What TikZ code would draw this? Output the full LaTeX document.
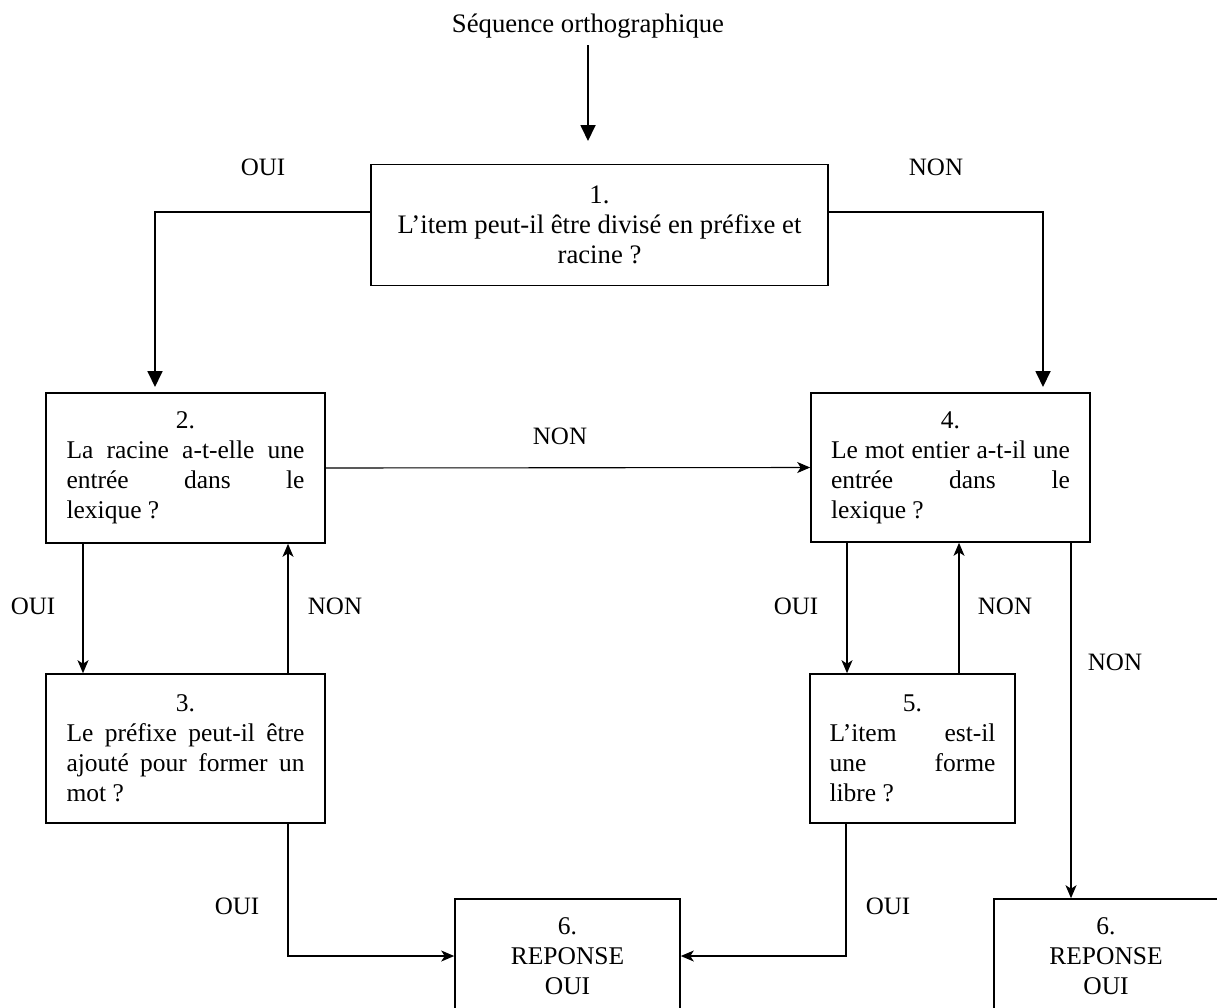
\documentclass[tikz,border=0pt]{standalone}
\usepackage{fontspec}
\setmainfont{Liberation Serif}
\usetikzlibrary{arrows.meta}
\begin{document}
\begin{tikzpicture}[x=1pt,y=-1pt,
  box/.style={draw, line width=1.6pt, inner sep=0pt, align=center, font=\fontsize{25.5}{30}\selectfont},
  bigbox/.style={box, font=\fontsize{26.7}{30}\selectfont},
  lbl/.style={font=\fontsize{25}{30}\selectfont, inner sep=0pt},
  bigarrow/.style={line width=1.8pt, -{Triangle[length=16pt,width=15pt]}},
  conn/.style={line width=1.1pt},
  connarrow/.style={conn, -{Stealth[length=13pt,width=11pt,inset=3.5pt]}},
]
\useasboundingbox (0,0) rectangle (1217,1007);
\clip (0,0) rectangle (1217,1007);

% title
\node[lbl, font=\fontsize{26.7}{30}\selectfont] (t) at (588,26) {Séquence orthographique};
\coordinate (c1) at (588,141);
\draw[bigarrow] (588,45) -- (c1);

% boxes
\node[bigbox, minimum width=457pt, minimum height=121pt] (b1) at (599.5,225)
  {1.\\L’item peut-il être divisé en préfixe et\\racine ?};
\node[box, minimum width=279pt, minimum height=150pt] (b2) at (185.5,468)
  {2.\\\makebox[238pt][s]{La racine a-t-elle une}\\\makebox[238pt][s]{entrée dans le}\\\makebox[238pt][l]{lexique ?}};
\node[box, minimum width=279pt, minimum height=149pt] (b4) at (950.5,467.5)
  {4.\\\makebox[239pt][s]{Le mot entier a-t-il une}\\\makebox[239pt][s]{entrée dans le}\\\makebox[239pt][l]{lexique ?}};
\node[box, minimum width=279pt, minimum height=149pt] (b3) at (185.5,748.5)
  {3.\\\makebox[238pt][s]{Le préfixe peut-il être}\\\makebox[238pt][s]{ajouté pour former un}\\\makebox[238pt][l]{mot ?}};
\node[box, minimum width=205pt, minimum height=149pt] (b5) at (912.5,748.5)
  {5.\\\makebox[166pt][s]{L’item est-il}\\\makebox[166pt][s]{une forme}\\\makebox[166pt][l]{libre ?}};
\node[box, minimum width=225pt, minimum height=114pt] (b6a) at (567.5,956)
  {6.\\REPONSE\\OUI};
\node[box, minimum width=224pt, minimum height=114pt] (b6b) at (1106,956)
  {6.\\REPONSE\\OUI};

% free ends of the big arrows
\coordinate (c2) at (155,387);
\coordinate (c4) at (1043,387);

% connectors
\draw[bigarrow] (b1.west |- 0,212) -| (c2);
\draw[bigarrow] (b1.east |- 0,212) -| (c4);
\draw[connarrow] (b2.east) -- (b4.west);
\draw[connarrow] (b2.south -| 83,0) -- (b3.north -| 83,0);
\draw[connarrow] (b3.north -| 288,0) -- (b2.south -| 288,0);
\draw[connarrow] (b4.south -| 847,0) -- (b5.north -| 847,0);
\draw[connarrow] (b5.north -| 959,0) -- (b4.south -| 959,0);
\draw[connarrow] (b3.south -| 288,0) |- (b6a.west);
\draw[connarrow] (b5.south -| 846,0) |- (b6a.east);
\draw[connarrow] (b4.south -| 1071,0) -- (b6b.north -| 1071,0);

% labels
\node[lbl] (l1) at (263,167) {OUI};
\node[lbl] (l2) at (936,167) {NON};
\node[lbl] (l3) at (560,436) {NON};
\node[lbl] (l4) at (33,606) {OUI};
\node[lbl] (l5) at (335,606) {NON};
\node[lbl] (l6) at (796,606) {OUI};
\node[lbl] (l7) at (1005,606) {NON};
\node[lbl] (l8) at (1115,662) {NON};
\node[lbl] (l9) at (237,906) {OUI};
\node[lbl] (l10) at (888,906) {OUI};
\end{tikzpicture}
\end{document}
